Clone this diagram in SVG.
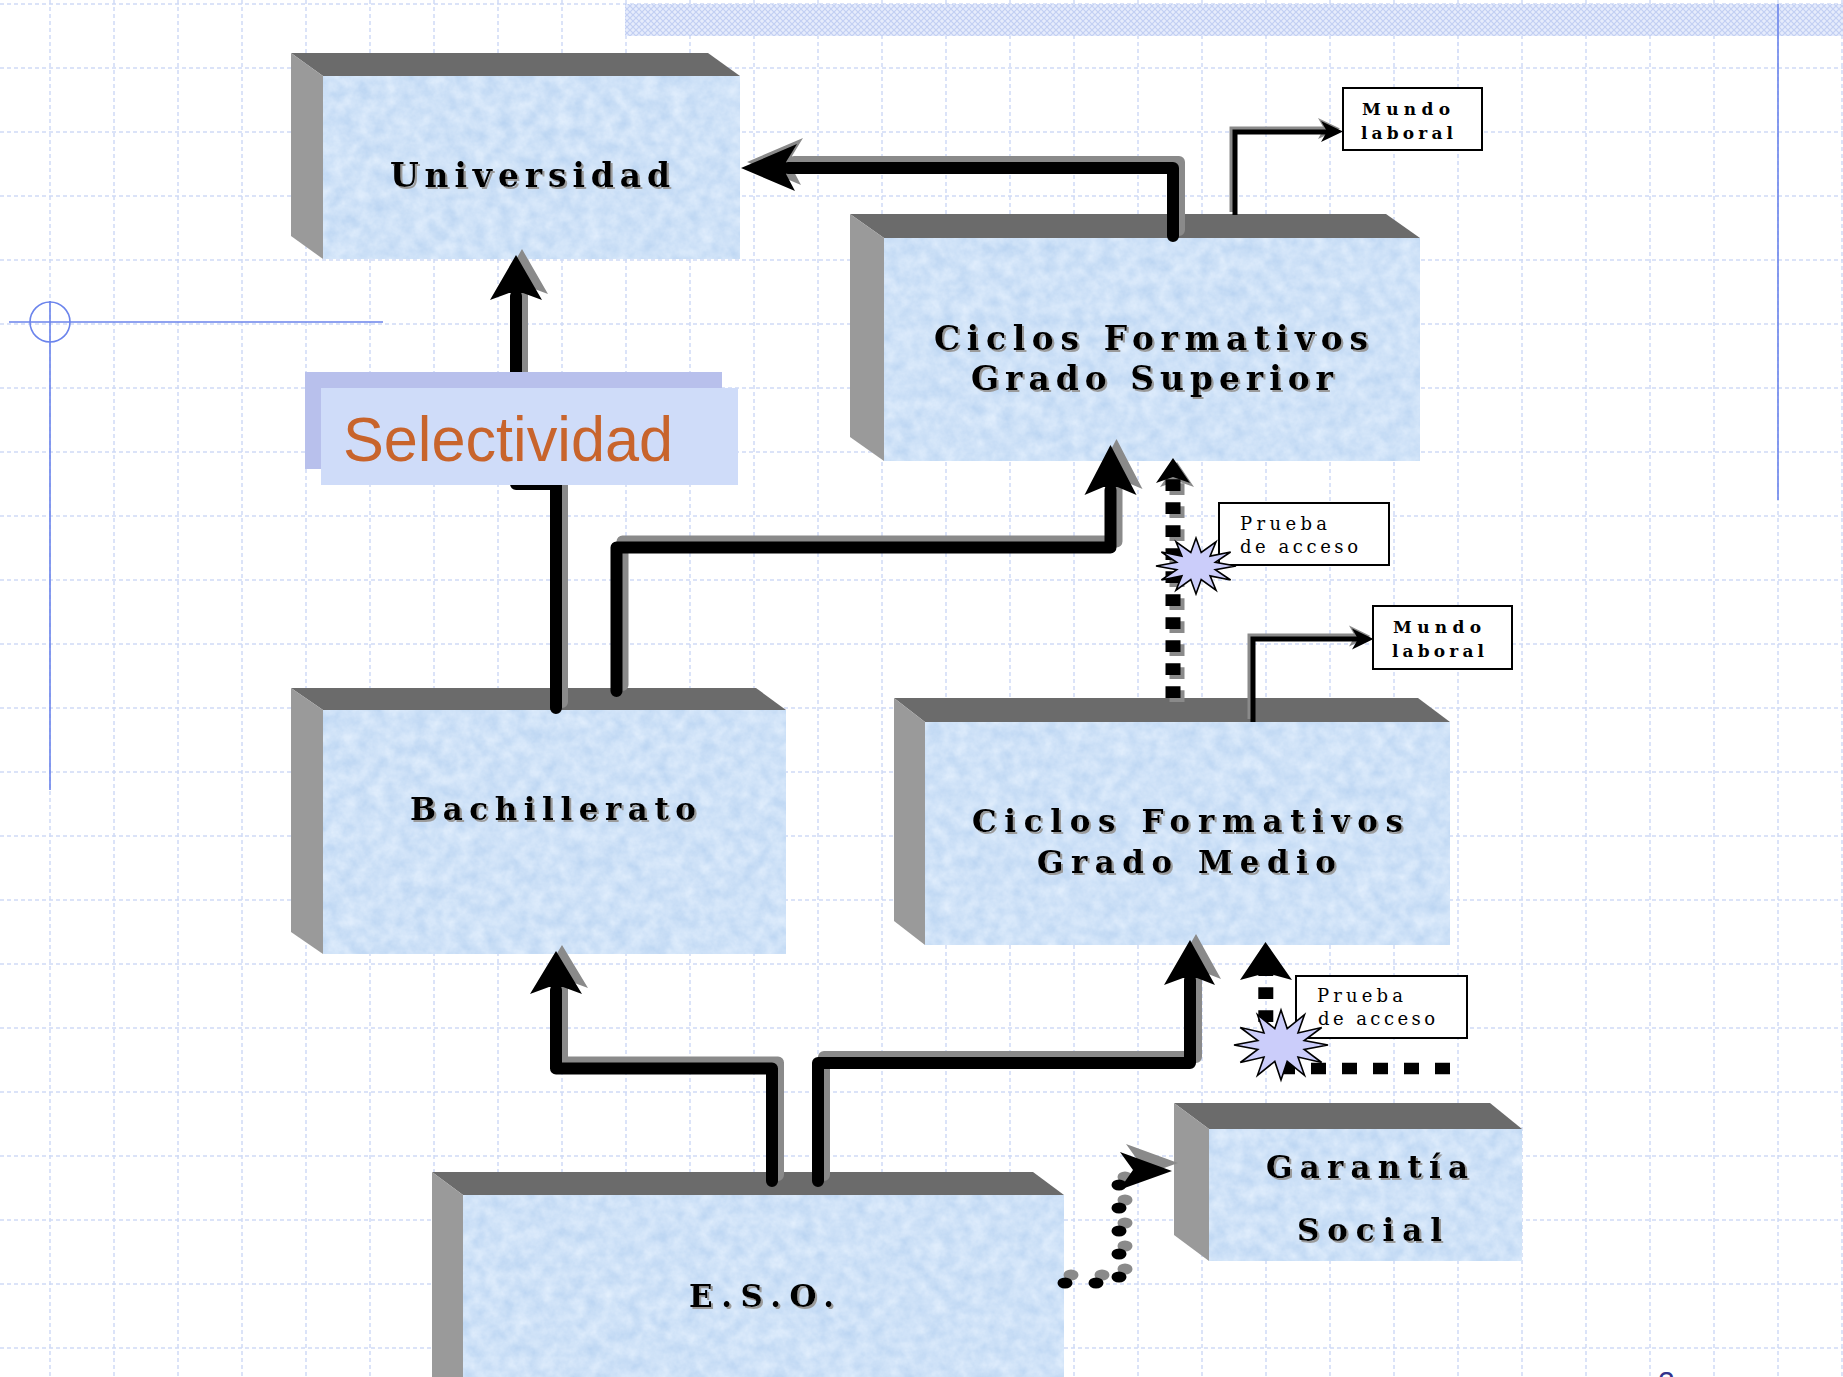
<svg xmlns="http://www.w3.org/2000/svg" xmlns:xlink="http://www.w3.org/1999/xlink" width="1843" height="1377" viewBox="0 0 1843 1377">
<style>
.grid{fill:none;stroke:#cfdaf6;stroke-width:1.5;stroke-dasharray:4 3}
.guide{fill:none;stroke:#6b84ec;stroke-width:1.6}
.topf{fill:#6b6b6b}
.leftf{fill:#9a9a9a}
.front{fill:#cfe0f7}
.title{font-family:"DejaVu Serif","Liberation Serif",serif;font-weight:bold;fill:#000}
.small{font-family:"DejaVu Serif","Liberation Serif",serif;font-weight:bold;font-size:17px;fill:#000}
.pr{font-family:"DejaVu Serif","Liberation Serif",serif;font-size:18px;fill:#000}
.lbl{fill:#fff;stroke:#000;stroke-width:2}
.star{fill:#cbcdfa;stroke:#000;stroke-width:1.6;stroke-linejoin:miter}
.sh{fill:none;stroke:currentColor;stroke-width:12;stroke-linejoin:round;stroke-linecap:round}
.thin{fill:none;stroke:currentColor;stroke-width:5;stroke-linejoin:miter}
.hd{fill:currentColor}
.dv{fill:none;stroke:currentColor;stroke-width:15;stroke-dasharray:11.7 11.3}
.dh{fill:none;stroke:currentColor;stroke-width:11.5;stroke-dasharray:15 16}
</style>
<defs>
<filter id="tex" x="0" y="0" width="1" height="1" color-interpolation-filters="sRGB">
<feTurbulence type="fractalNoise" baseFrequency="0.07" numOctaves="4" seed="7"/>
<feColorMatrix type="matrix" values="0.18 0 0 0 0.72  0.12 0 0 0 0.825  0.05 0 0 0 0.945  0 0 0 0 1"/>
<feComposite operator="in" in2="SourceGraphic"/>
</filter>
<filter id="ts" x="-5%" y="-20%" width="110%" height="150%">
<feDropShadow dx="2" dy="2" stdDeviation="0.6" flood-color="#9a9a9a" flood-opacity="1"/>
</filter>
<pattern id="hatch" width="6" height="6" patternUnits="userSpaceOnUse">
<rect width="6" height="6" fill="#e6ecfc"/>
<path d="M0,0L6,6M6,0L0,6" stroke="#c2cff3" stroke-width="1.2"/>
</pattern>
<g id="cA"><path class="sh" d="M1173,236V168H788"/><path class="hd" d="M741,168L797,144L786,162L786,174L795,191Z"/></g>
<g id="cB"><path class="sh" d="M556,708V484H516V296"/><path class="hd" d="M516,255L542,300L523,293L509,293L490,300Z"/></g>
<g id="cD"><path class="sh" d="M616.5,691V547.5H1110.5V490"/><path class="hd" d="M1110.5,445L1136.5,495L1117.5,487L1103.5,487L1084.5,495Z"/></g>
<g id="cH"><path class="sh" d="M818,1181V1063H1190V980"/><path class="hd" d="M1190,940L1215,985L1197,978L1183,978L1164,985Z"/></g>
<g id="cI"><path class="sh" d="M772,1181V1068.5H556V990"/><path class="hd" d="M556,951L582,994L563,987L549,987L530,994Z"/></g>
<g id="cF"><path class="thin" d="M1235,215V132H1328"/><path class="hd" d="M1343,131.5L1321,121L1327,131.5L1321,142Z"/></g>
<g id="cG"><path class="thin" d="M1253,722V639H1359"/><path class="hd" d="M1373.5,639L1352,628.5L1358,639L1352,649.5Z"/></g>
<g id="cE"><path class="dv" d="M1173,698V479"/><path class="hd" d="M1173,458L1190,483L1173,477L1156,483Z"/></g>
<g id="cK">
<ellipse class="hd" cx="1065" cy="1283" rx="7.5" ry="5.5"/>
<ellipse class="hd" cx="1096" cy="1283" rx="7.5" ry="5.5"/>
<ellipse class="hd" cx="1119" cy="1277" rx="7.5" ry="5.5"/>
<ellipse class="hd" cx="1119" cy="1254" rx="7.5" ry="5.5"/>
<ellipse class="hd" cx="1119" cy="1231" rx="7.5" ry="5.5"/>
<ellipse class="hd" cx="1119" cy="1208" rx="7.5" ry="5.5"/>
<ellipse class="hd" cx="1119" cy="1185" rx="7.5" ry="5.5"/>
<path class="hd" d="M1172,1171L1120,1152L1133,1170L1119,1190Z"/>
</g>
</defs>

<rect width="1843" height="1377" fill="#ffffff"/>
<g id="background">
<path class="grid" d="M50,0V1377M114,0V1377M178,0V1377M242,0V1377M306,0V1377M370,0V1377M434,0V1377M498,0V1377M562,0V1377M626,0V1377M690,0V1377M754,0V1377M818,0V1377M882,0V1377M946,0V1377M1010,0V1377M1074,0V1377M1138,0V1377M1202,0V1377M1266,0V1377M1330,0V1377M1394,0V1377M1458,0V1377M1522,0V1377M1586,0V1377M1650,0V1377M1714,0V1377M1778,0V1377M1842,0V1377M0,4H1843M0,68H1843M0,132H1843M0,196H1843M0,260H1843M0,324H1843M0,388H1843M0,452H1843M0,516H1843M0,580H1843M0,644H1843M0,708H1843M0,772H1843M0,836H1843M0,900H1843M0,964H1843M0,1028H1843M0,1092H1843M0,1156H1843M0,1220H1843M0,1284H1843M0,1348H1843"/>
<rect x="625" y="4" width="1218" height="32" fill="url(#hatch)"/>
<path class="guide" d="M9,322H383M50,301V790M1778,4V500"/>
<circle class="guide" cx="50" cy="322" r="20"/>
<text x="1658" y="1392" font-family="Liberation Sans, Arial, sans-serif" font-size="30" fill="#33338c">2</text>
</g>

<g id="universidad">
<polygon class="topf" points="291,53 708,53 740,76 323,76"/>
<polygon class="leftf" points="291,53 323,76 323,259 291,236"/>
<rect class="front" filter="url(#tex)" x="323" y="76" width="417" height="183"/>
<text class="title" filter="url(#ts)" x="390" y="187" font-size="33" textLength="280" lengthAdjust="spacing">Universidad</text>
</g>

<g id="cfgs">
<polygon class="topf" points="850,214 1386,214 1420,238 884,238"/>
<polygon class="leftf" points="850,214 884,238 884,461 850,437"/>
<rect class="front" filter="url(#tex)" x="884" y="238" width="536" height="223"/>
<text class="title" filter="url(#ts)" font-size="33"><tspan x="934" y="350" textLength="434" lengthAdjust="spacing">Ciclos Formativos</tspan><tspan x="971" y="389.5" textLength="362" lengthAdjust="spacing">Grado Superior</tspan></text>
</g>

<g id="bachillerato">
<polygon class="topf" points="291,688 756,688 786,710 323,710"/>
<polygon class="leftf" points="291,688 323,710 323,954 291,932"/>
<rect class="front" filter="url(#tex)" x="323" y="710" width="463" height="244"/>
<text class="title" filter="url(#ts)" x="410" y="820" font-size="31" textLength="286" lengthAdjust="spacing">Bachillerato</text>
</g>

<g id="cfgm">
<polygon class="topf" points="894,698 1418,698 1450,722 925,722"/>
<polygon class="leftf" points="894,698 925,722 925,945 894,921"/>
<rect class="front" filter="url(#tex)" x="925" y="722" width="525" height="223"/>
<text class="title" filter="url(#ts)" font-size="31"><tspan x="972" y="832" textLength="431" lengthAdjust="spacing">Ciclos Formativos</tspan><tspan x="1037" y="873" textLength="299" lengthAdjust="spacing">Grado Medio</tspan></text>
</g>

<g id="eso">
<polygon class="topf" points="432,1172 1033,1172 1064,1195 463,1195"/>
<polygon class="leftf" points="432,1172 463,1195 463,1400 432,1377"/>
<rect class="front" filter="url(#tex)" x="463" y="1195" width="601" height="190"/>
<text class="title" filter="url(#ts)" x="689" y="1307" font-size="31" textLength="145" lengthAdjust="spacing">E.S.O.</text>
</g>

<g id="garantia">
<polygon class="topf" points="1174,1103 1490,1103 1522,1129 1209,1129"/>
<polygon class="leftf" points="1174,1103 1209,1129 1209,1261 1174,1235"/>
<rect class="front" filter="url(#tex)" x="1209" y="1129" width="313" height="132"/>
<text class="title" filter="url(#ts)" font-size="31"><tspan x="1266" y="1178" textLength="202" lengthAdjust="spacing">Garantía</tspan><tspan x="1297" y="1241" textLength="145" lengthAdjust="spacing">Social</tspan></text>
</g>

<g id="connectors">
<use xlink:href="#cA" href="#cA" color="#8a8a8a" transform="translate(6,-6)"/>
<use xlink:href="#cB" href="#cB" color="#8a8a8a" transform="translate(6,-6)"/>
<use xlink:href="#cD" href="#cD" color="#8a8a8a" transform="translate(6,-6)"/>
<use xlink:href="#cH" href="#cH" color="#8a8a8a" transform="translate(6,-6)"/>
<use xlink:href="#cI" href="#cI" color="#8a8a8a" transform="translate(6,-6)"/>
<use xlink:href="#cF" href="#cF" color="#8a8a8a" transform="translate(-3,-3)"/>
<use xlink:href="#cG" href="#cG" color="#8a8a8a" transform="translate(-3,-3)"/>
<use xlink:href="#cE" href="#cE" color="#8a8a8a" transform="translate(4,4)"/>
<use xlink:href="#cK" href="#cK" color="#8a8a8a" transform="translate(6,-8)"/>
<use xlink:href="#cA" href="#cA" color="#000"/>
<use xlink:href="#cB" href="#cB" color="#000"/>
<use xlink:href="#cD" href="#cD" color="#000"/>
<use xlink:href="#cH" href="#cH" color="#000"/>
<use xlink:href="#cI" href="#cI" color="#000"/>
<use xlink:href="#cF" href="#cF" color="#000"/>
<use xlink:href="#cG" href="#cG" color="#000"/>
<use xlink:href="#cE" href="#cE" color="#000"/>
<use xlink:href="#cK" href="#cK" color="#000"/>
<g color="#000">
<path class="dh" d="M1450,1068.4H1270"/>
<path class="dv" d="M1265.8,1045V962"/>
<path class="hd" d="M1265.5,942L1292,980L1266,973L1240,980Z"/>
</g>
</g>

<g id="selectividad">
<rect x="305" y="372" width="417" height="97" fill="#b8c0ec"/>
<rect x="321" y="388" width="417" height="97" fill="#cfdcf9"/>
<text x="343" y="461" font-family="Liberation Sans, Arial, sans-serif" font-size="63" fill="#c8642c" textLength="330" lengthAdjust="spacingAndGlyphs">Selectividad</text>
</g>

<g id="mundo1">
<rect class="lbl" x="1343" y="88" width="139" height="62"/>
<text class="small"><tspan x="1362" y="115" textLength="88" lengthAdjust="spacing">Mundo</tspan><tspan x="1361" y="138.5" textLength="92" lengthAdjust="spacing">laboral</tspan></text>
</g>

<g id="mundo2">
<rect class="lbl" x="1373" y="606" width="139" height="63"/>
<text class="small"><tspan x="1393" y="633" textLength="88" lengthAdjust="spacing">Mundo</tspan><tspan x="1392" y="656.5" textLength="92" lengthAdjust="spacing">laboral</tspan></text>
</g>

<g id="prueba1">
<rect class="lbl" x="1219" y="503" width="170" height="62"/>
<text class="pr"><tspan x="1240" y="530" textLength="87" lengthAdjust="spacing">Prueba</tspan><tspan x="1240" y="553" textLength="118" lengthAdjust="spacing">de acceso</tspan></text>
<polygon class="star" points="1236,566 1215.3,569.6 1230.6,580 1210.1,575.9 1216,590.2 1201.2,579.5 1196,594 1190.8,579.5 1176,590.2 1181.9,575.9 1161.4,580 1176.7,569.6 1156,566 1176.7,562.4 1161.4,552 1181.9,556.1 1176,541.8 1190.8,552.5 1196,538 1201.2,552.5 1216,541.8 1210.1,556.1 1230.6,552 1215.3,562.4"/>
</g>

<g id="prueba2">
<rect class="lbl" x="1296" y="976" width="171" height="62"/>
<text class="pr"><tspan x="1317" y="1002" textLength="86" lengthAdjust="spacing">Prueba</tspan><tspan x="1318" y="1025" textLength="117" lengthAdjust="spacing">de acceso</tspan></text>
<polygon class="star" points="1328,1045 1304.2,1049.4 1321.7,1062.5 1298,1057 1304.5,1075.3 1287.2,1061.4 1281,1080 1274.8,1061.4 1257.5,1075.3 1264,1057 1240.3,1062.5 1257.8,1049.4 1234,1045 1257.8,1040.6 1240.3,1027.5 1264,1033 1257.5,1014.7 1274.8,1028.6 1281,1010 1287.2,1028.6 1304.5,1014.7 1298,1033 1321.7,1027.5 1304.2,1040.6"/>
</g>
</svg>
